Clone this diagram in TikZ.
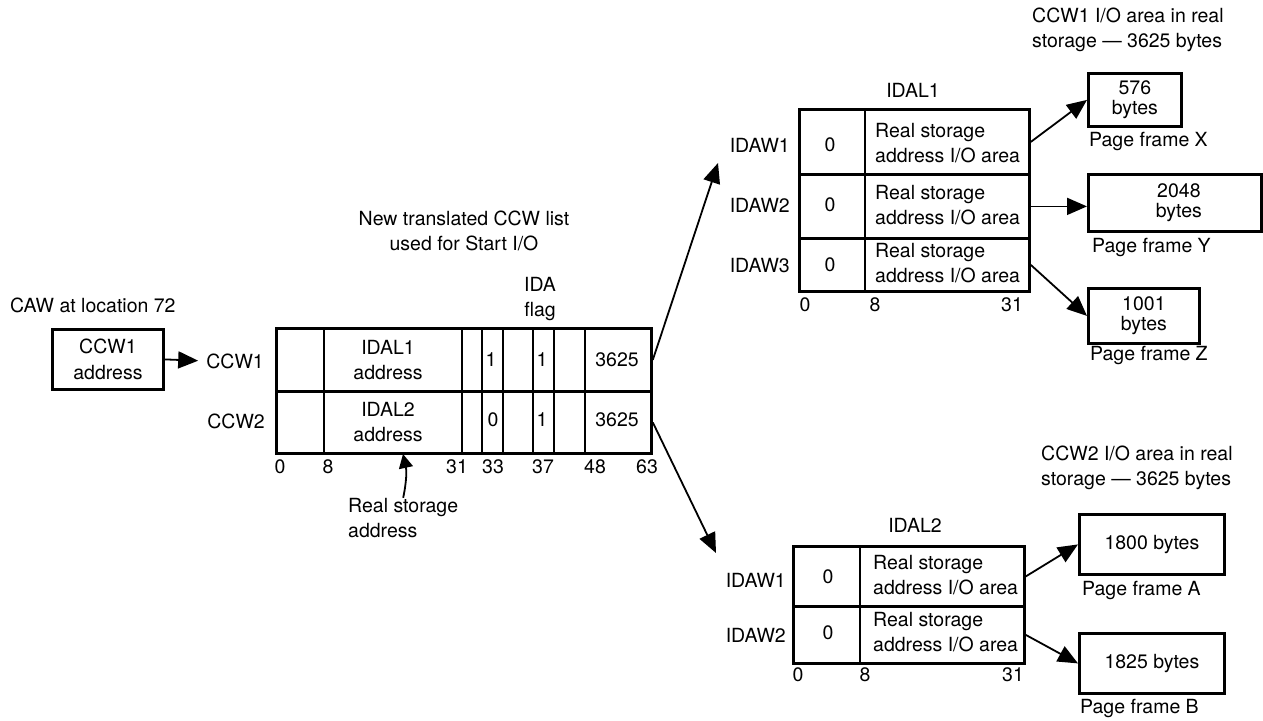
\documentclass[tikz,border=0pt]{standalone}
\usepackage{fontspec}
\setmainfont{TeX Gyre Heros}
\usetikzlibrary{arrows.meta}
\begin{document}
\begin{tikzpicture}[x=1pt,y=-1pt,
  every node/.style={inner sep=0pt, font=\fontsize{19.5}{25.5}\selectfont},
  cellbox/.style={draw, line width=2.8pt, anchor=north west, align=center},
  tightbox/.style={cellbox, font=\fontsize{19.5}{20.5}\selectfont},
  txt/.style={align=center},
  ltxt/.style={align=left, anchor=west},
  rtxt/.style={anchor=east},
  arr/.style={line width=1.8pt, -{Triangle[length=20pt,width=17pt]}},
  sarr/.style={line width=1.8pt, -{Triangle[length=14pt,width=14pt]}},
  cellline/.style={line width=2.3pt},
]
\useasboundingbox (0,0) rectangle (1263,720);

% CAW
\node[anchor=west] (cawtitle) at (10,305) {CAW at location 72};
\node[cellbox, minimum width=111, minimum height=60] (caw) at (51,328) {CCW1\\address};
\node[rtxt] (ccw1lbl) at (264,361) {CCW1};
\node[rtxt] (ccw2lbl) at (265,421) {CCW2};
\draw[arr, shorten >=8pt] (caw.east) -- (ccw1lbl.west);

% CCW list
\node[txt] (ccwtitle) at (464,231) {New translated CCW list\\used for Start I/O};
\node[txt] (idaflag) at (540,299) {IDA\\flag};
\node[cellbox, minimum width=375, minimum height=63] (ccw1row) at (275,327) {};
\node[cellbox, minimum width=375, minimum height=62] (ccw2row) at (275,390) {};
\foreach \x in {324,462,482,503,533,554,585} \draw[cellline] (\x,327) -- (\x,452);
\node[txt] (idal1addr) at (388,360) {IDAL1\\address};
\node (c1f33) at (491,360) {1};
\node (c1f37) at (542,360) {1};
\node (c1cnt) at (617,360) {3625};
\node[txt] (idal2addr) at (388,422) {IDAL2\\address};
\node (c2f33) at (493,420) {0};
\node (c2f37) at (542,420) {1};
\node (c2cnt) at (617,420) {3625};
\foreach \x/\t in {280/0,328/8,457/31,493/33,543/37,595/48,647/63}
  \node (ccwbit\t) at (\x,467) {\t};
\node[ltxt] (rsa) at (348,518) {Real storage\\address};
\coordinate (rsatip) at (403,454);
\draw[sarr] (rsa.north) to[bend right=12] (rsatip);

\coordinate (tip1) at (718,163);
\coordinate (tip2) at (716,553);
\draw[arr] (ccw1row.east) -- (tip1);
\draw[arr] (ccw2row.east) -- (tip2);

% IDAL1
\node (idal1title) at (913,90) {IDAL1};
\node[cellbox, minimum width=230, minimum height=65] (idal1r1) at (798,108) {};
\node[cellbox, minimum width=230, minimum height=64] (idal1r2) at (798,173) {};
\node[cellbox, minimum width=230, minimum height=53] (idal1r3) at (798,237) {};
\draw[cellline] (865,108) -- (865,290);
\node[rtxt] (a1w1) at (790,145) {IDAW1};
\node[rtxt] (a1w2) at (790,205) {IDAW2};
\node[rtxt] (a1w3) at (790,266) {IDAW3};
\node (a1z1) at (830,145) {0};
\node (a1z2) at (830,205) {0};
\node (a1z3) at (830,265) {0};
\node[ltxt] (a1t1) at (875,143) {Real storage\\address I/O area};
\node[ltxt] (a1t2) at (875,205) {Real storage\\address I/O area};
\node[ltxt] (a1t3) at (875,263) {Real storage\\address I/O area};
\node (a1b0) at (805,305) {0};
\node (a1b8) at (875,305) {8};
\node (a1b31) at (1012,305) {31};

% CCW1 area
\node[ltxt] (ccw1area) at (1032,30) {CCW1 I/O area in real\\storage — 3625 bytes};
\node[tightbox, minimum width=93, minimum height=53] (box576) at (1087,72) {576\\bytes};
\node[tightbox, minimum width=173, minimum height=57] (box2048) at (1087,173) {\hspace*{8pt}2048\\\hspace*{8pt}bytes};
\node[tightbox, minimum width=111, minimum height=55] (box1001) at (1087,287) {1001\\bytes};
\node[anchor=west] (pfx) at (1089,141) {Page frame X};
\node[anchor=west] (pfy) at (1092,247) {Page frame Y};
\node[anchor=west] (pfz) at (1090,355) {Page frame Z};
\draw[arr] (idal1r1.east) -- (box576.west);
\draw[arr] (idal1r2.east) -- (idal1r2.east -| box2048.west);
\draw[arr] (idal1r3.east) -- (box1001.west);

% IDAL2
\node (idal2title) at (915,525) {IDAL2};
\node[cellbox, minimum width=231, minimum height=60] (idal2r1) at (792,545) {};
\node[cellbox, minimum width=231, minimum height=57] (idal2r2) at (792,605) {};
\draw[cellline] (860,545) -- (860,662);
\node[rtxt] (a2w1) at (786,580) {IDAW1};
\node[rtxt] (a2w2) at (786,635) {IDAW2};
\node (a2z1) at (828,577) {0};
\node (a2z2) at (828,633) {0};
\node[ltxt] (a2t1) at (873,575) {Real storage\\address I/O area};
\node[ltxt] (a2t2) at (873,632) {Real storage\\address I/O area};
\node (a2b0) at (798,675) {0};
\node (a2b8) at (865,675) {8};
\node (a2b31) at (1013,675) {31};

% CCW2 area
\node[ltxt] (ccw2area) at (1041,468) {CCW2 I/O area in real\\storage — 3625 bytes};
\node[cellbox, minimum width=145, minimum height=60] (box1800) at (1078,513) {1800 bytes};
\node[cellbox, minimum width=145, minimum height=60] (box1825) at (1078,632) {1825 bytes};
\node[anchor=west] (pfa) at (1082,590) {Page frame A};
\node[anchor=west] (pfb) at (1080,708) {Page frame B};
\draw[arr] (idal2r1.east) -- (box1800.west);
\draw[arr] (idal2r2.east) -- (box1825.west);
\end{tikzpicture}
\end{document}
